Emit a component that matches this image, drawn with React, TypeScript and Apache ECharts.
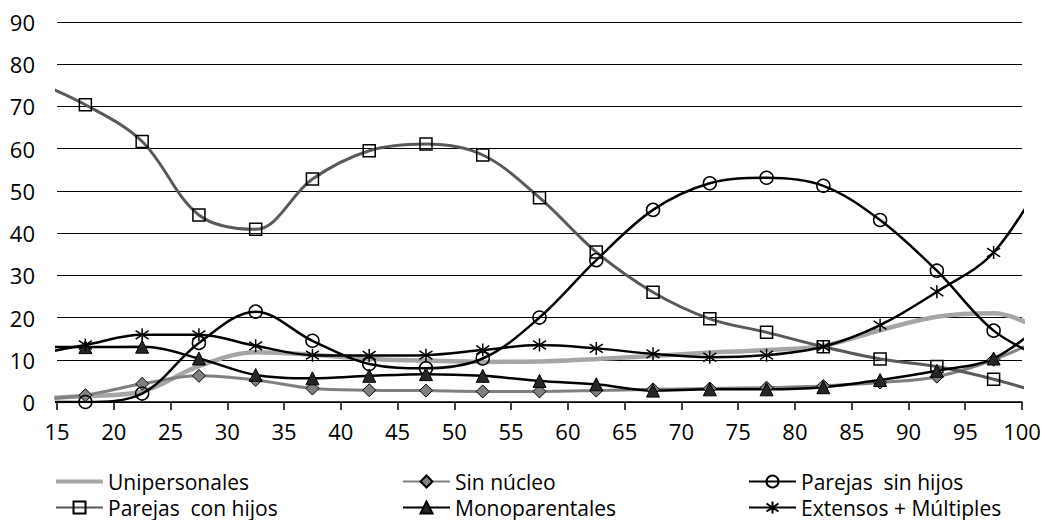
import React, { useEffect, useRef } from "react";
import * as echarts from "echarts";

// x positions (age-group centres; first and last lie just outside the axis range)
const AGES = [12.5, 17.5, 22.5, 27.5, 32.5, 37.5, 42.5, 47.5, 52.5, 57.5, 62.5, 67.5, 72.5, 77.5, 82.5, 87.5, 92.5, 97.5, 102.5];

const UNIPERSONALES = [0.8, 1.4, 2.5, 8.5, 11.8, 11.2, 10.2, 9.8, 9.5, 9.6, 10.2, 10.9, 11.7, 12.3, 13.3, 17.0, 20.2, 21.0, 16.0];
const SIN_NUCLEO = [0.5, 1.6, 4.3, 6.2, 5.2, 3.2, 2.8, 2.7, 2.5, 2.5, 2.7, 3.0, 3.2, 3.4, 3.8, 4.6, 6.0, 10.0, 16.0];
const SIN_HIJOS = [0, 0, 2.0, 14.0, 21.4, 14.5, 9.0, 8.0, 10.3, 20.0, 33.6, 45.5, 51.8, 53.1, 51.2, 43.1, 31.1, 16.9, 9.5];
const CON_HIJOS = [76.5, 70.4, 61.7, 44.3, 40.9, 52.8, 59.5, 61.1, 58.5, 48.4, 35.5, 26.0, 19.7, 16.5, 13.1, 10.2, 8.4, 5.4, 1.5];
const MONOPARENTALES = [13.0, 13.0, 13.1, 10.3, 6.4, 5.6, 6.2, 6.6, 6.2, 5.0, 4.2, 2.7, 3.0, 3.0, 3.5, 5.2, 7.4, 10.3, 20.0];
const EXTENSOS = [11.0, 13.5, 15.9, 15.9, 13.3, 11.1, 11.0, 11.1, 12.3, 13.5, 12.7, 11.4, 10.6, 11.1, 13.1, 18.2, 26.1, 35.4, 56.0];

const X_MIN = 15;
const X_MAX = 100;
const X_STEP = 5;
const Y_MIN = 0;
const Y_MAX = 90;
const Y_STEP = 10;

const FONT = "'Open Sans', 'Noto Sans', sans-serif";
const ASTERISK = "path://M6,0L6,12M0,2L12,10M0,10L12,2";

function pts(values: number[]) {
  return values.map((v, i) => {
    const outside = AGES[i] < X_MIN || AGES[i] > X_MAX;
    return outside ? { value: [AGES[i], v], symbol: "none" } : { value: [AGES[i], v] };
  });
}

export default function App() {
  const ref = useRef<HTMLDivElement>(null);
  useEffect(() => {
    if (!ref.current) return;
    const chart = echarts.init(ref.current, null, { renderer: "svg" });
    const base = {
      type: "line",
      smooth: 0.35,
      clip: true,
      symbolSize: 12,
    };
    const legendCommon = {
      orient: "vertical",
      padding: 0,
      itemWidth: 47,
      itemHeight: 15,
      itemGap: 5,
      top: 471,
      textStyle: { fontFamily: FONT, fontSize: 21, color: "#000" },
      selectedMode: false,
    };
    chart.setOption({
      animation: false,
      backgroundColor: "#fff",
      grid: { left: 57, right: 24, top: 22, bottom: 118, containLabel: false },
      xAxis: {
        type: "value",
        min: X_MIN,
        max: X_MAX,
        interval: X_STEP,
        axisLine: { show: true, lineStyle: { color: "#000", width: 1.5 } },
        axisTick: { show: true, length: 8, lineStyle: { color: "#000", width: 1.5 } },
        axisLabel: { margin: 18, fontFamily: FONT, fontSize: 22, color: "#000" },
        splitLine: { show: false },
      },
      yAxis: {
        type: "value",
        min: Y_MIN,
        max: Y_MAX,
        interval: Y_STEP,
        axisLine: { show: false },
        axisTick: { show: false },
        axisLabel: { margin: 22, fontFamily: FONT, fontSize: 22, color: "#000" },
        splitLine: { show: true, lineStyle: { color: "#000", width: 1.2 } },
      },
      legend: [
        {
          ...legendCommon,
          left: 55,
          data: [
            { name: "Unipersonales", icon: "path://M0,0L47,0L47,4L0,4Z" },
            { name: "Parejas  con hijos" },
          ],
        },
        {
          ...legendCommon,
          left: 402,
          data: [{ name: "Sin núcleo" }, { name: "Monoparentales" }],
        },
        {
          ...legendCommon,
          left: 748,
          data: [{ name: "Parejas  sin hijos" }, { name: "Extensos + Múltiples" }],
        },
      ],
      series: [
        {
          ...base,
          name: "Unipersonales",
          data: pts(UNIPERSONALES),
          symbol: "none",
          color: "#A6A6A6",
          lineStyle: { color: "#A6A6A6", width: 4.5 },
          itemStyle: { color: "#A6A6A6" },
        },
        {
          ...base,
          name: "Sin núcleo",
          data: pts(SIN_NUCLEO),
          symbol: "diamond",
          symbolSize: 13,
          color: "#808080",
          lineStyle: { color: "#808080", width: 3 },
          itemStyle: { color: "#808080", borderColor: "#000", borderWidth: 1 },
        },
        {
          ...base,
          name: "Parejas  sin hijos",
          data: pts(SIN_HIJOS),
          symbol: "circle",
          symbolSize: 13,
          color: "#000",
          lineStyle: { color: "#000", width: 2.5 },
          itemStyle: { color: "rgba(255,255,255,0)", borderColor: "#000", borderWidth: 1.5 },
        },
        {
          ...base,
          name: "Parejas  con hijos",
          data: pts(CON_HIJOS),
          symbol: "rect",
          symbolSize: 12,
          color: "#595959",
          lineStyle: { color: "#595959", width: 3 },
          itemStyle: { color: "rgba(255,255,255,0)", borderColor: "#000", borderWidth: 1.5 },
        },
        {
          ...base,
          name: "Monoparentales",
          data: pts(MONOPARENTALES),
          symbol: "triangle",
          symbolSize: 13,
          color: "#262626",
          lineStyle: { color: "#000", width: 2.5 },
          itemStyle: { color: "#262626", borderColor: "#000", borderWidth: 1 },
        },
        {
          ...base,
          name: "Extensos + Múltiples",
          data: pts(EXTENSOS),
          symbol: ASTERISK,
          symbolSize: 13,
          color: "#000",
          lineStyle: { color: "#000", width: 2.5 },
          itemStyle: { color: "rgba(0,0,0,0)", borderColor: "#000", borderWidth: 1.5 },
        },
      ],
    });
    return () => chart.dispose();
  }, []);
  return (
    <div
      ref={ref}
      style={{ position: "fixed", left: 0, top: 0, width: 1046, height: 520, background: "#fff" }}
    />
  );
}
